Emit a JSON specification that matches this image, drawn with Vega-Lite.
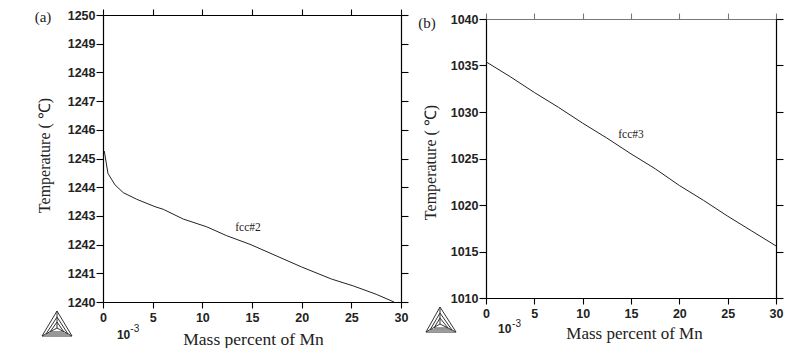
{
"$schema":"https://vega.github.io/schema/vega-lite/v6.json",
"background":"white",
"padding":{"left":34,"top":8,"right":0,"bottom":0},
"bounds":"flush",
"spacing":85,
"center":true,
"config":{"view":{"stroke":null},"axis":{"grid":false,"labelFont":"Liberation Sans","labelFontWeight":"bold","labelFontSize":12.5,"labelColor":"#222","domainColor":"#000","tickColor":"#000","domainWidth":1.2,"tickWidth":1.1,"titleFont":"Liberation Serif","titleFontWeight":"normal","titleColor":"#222"}},
"hconcat":[
{"width":298,"height":287,
"resolve":{"axis":{"x":"independent","y":"independent"}},
"layer":[
{"data":{"values":[{"x":0.13,"y":1245.26},{"x":0.5,"y":1244.48},{"x":1.21,"y":1244.08},{"x":2.04,"y":1243.81},{"x":3.39,"y":1243.58},{"x":5.24,"y":1243.32},{"x":6.07,"y":1243.23},{"x":8.08,"y":1242.89},{"x":10.44,"y":1242.62},{"x":12.45,"y":1242.31},{"x":14.8,"y":1242.01},{"x":17.5,"y":1241.6},{"x":20,"y":1241.22},{"x":23,"y":1240.8},{"x":25.2,"y":1240.56},{"x":27.5,"y":1240.27},{"x":29.3,"y":1240}]},
"mark":{"type":"line","color":"#222","strokeWidth":1},
"encoding":{
"x":{"field":"x","type":"quantitative","scale":{"domain":[0,30],"nice":false},"axis":{"values":[0,5,10,15,20,25,30],"tickSize":6,"labelPadding":3,"labelFlush":false,"title":"Mass percent of Mn","titleFontSize":17.5,"titleX":150,"titleY":37,"titleBaseline":"middle"}},
"y":{"field":"y","type":"quantitative","scale":{"domain":[1240,1250],"nice":false,"zero":false},"axis":{"values":[1240,1241,1242,1243,1244,1245,1246,1247,1248,1249,1250],"format":"d","tickSize":7,"labelPadding":1,"title":"Temperature  (  ℃)","titleFontSize":16,"titleX":-59,"titleY":140,"titleBaseline":"middle"}}}},
{"data":{"values":[{"x":0,"y":1240},{"x":30,"y":1250}]},
"mark":{"type":"line","opacity":0},
"encoding":{
"x":{"field":"x","type":"quantitative","scale":{"domain":[0,30],"nice":false},"axis":{"orient":"top","values":[0,5,10,15,20,25,30],"tickSize":6,"labels":false,"title":null}},
"y":{"field":"y","type":"quantitative","scale":{"domain":[1240,1250],"nice":false,"zero":false},"axis":{"orient":"right","values":[1240,1241,1242,1243,1244,1245,1246,1247,1248,1249,1250],"tickSize":7,"labels":false,"title":null}}}},
{"data":{"values":[
{"s":"o","i":0,"x":-4.63,"y":1239.686},{"s":"o","i":1,"x":-6.14,"y":1238.815},{"s":"o","i":2,"x":-3.12,"y":1238.815},{"s":"o","i":3,"x":-4.63,"y":1239.686},
{"s":"m","i":0,"x":-4.63,"y":1239.477},{"s":"m","i":1,"x":-5.74,"y":1238.885},{"s":"m","i":2,"x":-3.52,"y":1238.885},{"s":"m","i":3,"x":-4.63,"y":1239.477},
{"s":"n","i":0,"x":-4.63,"y":1239.303},{"s":"n","i":1,"x":-5.34,"y":1238.955},{"s":"n","i":2,"x":-3.93,"y":1238.955},{"s":"n","i":3,"x":-4.63,"y":1239.303},
{"s":"c","i":0,"x":-4.63,"y":1239.686},{"s":"c","i":1,"x":-4.63,"y":1239.094},{"s":"c","i":2,"x":-6.14,"y":1238.815},
{"s":"d","i":0,"x":-4.63,"y":1239.094},{"s":"d","i":1,"x":-3.12,"y":1238.815}]},
"mark":{"type":"line","color":"#333","strokeWidth":1},
"encoding":{"x":{"field":"x","type":"quantitative","axis":null,"scale":{"domain":[0,30],"nice":false}},"y":{"field":"y","type":"quantitative","axis":null,"scale":{"domain":[1240,1250],"nice":false,"zero":false}},"detail":{"field":"s"},"order":{"field":"i"}}},
{"data":{"values":[{"t":"fcc#2","x":14.6,"y":1242.58}]},"mark":{"type":"text","font":"Liberation Serif","fontSize":11.5,"color":"#222"},"encoding":{"x":{"field":"x","type":"quantitative","axis":null,"scale":{"domain":[0,30],"nice":false}},"y":{"field":"y","type":"quantitative","axis":null,"scale":{"domain":[1240,1250],"nice":false,"zero":false}},"text":{"field":"t"}}},
{"data":{"values":[{"t":"(a)","x":-6.04,"y":1249.93}]},"mark":{"type":"text","font":"Liberation Serif","fontSize":15,"color":"#222"},"encoding":{"x":{"field":"x","type":"quantitative","axis":null,"scale":{"domain":[0,30],"nice":false}},"y":{"field":"y","type":"quantitative","axis":null,"scale":{"domain":[1240,1250],"nice":false,"zero":false}},"text":{"field":"t"}}},
{"data":{"values":[{"t":"10","x":1.4,"y":1238.85}]},"mark":{"type":"text","align":"left","font":"Liberation Sans","fontWeight":"bold","fontSize":12,"color":"#222"},"encoding":{"x":{"field":"x","type":"quantitative","axis":null,"scale":{"domain":[0,30],"nice":false}},"y":{"field":"y","type":"quantitative","axis":null,"scale":{"domain":[1240,1250],"nice":false,"zero":false}},"text":{"field":"t"}}},
{"data":{"values":[{"t":"-3","x":2.75,"y":1239.06}]},"mark":{"type":"text","align":"left","font":"Liberation Sans","fontSize":10,"color":"#222"},"encoding":{"x":{"field":"x","type":"quantitative","axis":null,"scale":{"domain":[0,30],"nice":false}},"y":{"field":"y","type":"quantitative","axis":null,"scale":{"domain":[1240,1250],"nice":false,"zero":false}},"text":{"field":"t"}}}
]},
{"width":290,"height":279,
"resolve":{"axis":{"x":"independent","y":"independent"}},
"layer":[
{"data":{"values":[{"x":0,"y":1035.4},{"x":2.5,"y":1033.8},{"x":5,"y":1032.1},{"x":7.5,"y":1030.5},{"x":10,"y":1028.8},{"x":12.5,"y":1027.2},{"x":15,"y":1025.5},{"x":17.5,"y":1023.9},{"x":20,"y":1022.1},{"x":22.5,"y":1020.5},{"x":25,"y":1018.8},{"x":27.5,"y":1017.2},{"x":30,"y":1015.6}]},
"mark":{"type":"line","color":"#222","strokeWidth":1},
"encoding":{
"x":{"field":"x","type":"quantitative","scale":{"domain":[0,30],"nice":false},"axis":{"values":[0,5,10,15,20,25,30],"tickSize":6,"labelPadding":3,"labelFlush":false,"title":"Mass percent of Mn","titleFontSize":17,"titleX":148,"titleY":35,"titleBaseline":"middle"}},
"y":{"field":"y","type":"quantitative","scale":{"domain":[1010,1040],"nice":false,"zero":false},"axis":{"values":[1010,1015,1020,1025,1030,1035,1040],"format":"d","tickSize":7,"labelPadding":1,"title":"Temperature  (  ℃)","titleFontSize":16,"titleX":-56,"titleY":143,"titleBaseline":"middle"}}}},
{"data":{"values":[{"x":0,"y":1010},{"x":30,"y":1040}]},
"mark":{"type":"line","opacity":0},
"encoding":{
"x":{"field":"x","type":"quantitative","scale":{"domain":[0,30],"nice":false},"axis":{"orient":"top","values":[0,5,10,15,20,25,30],"tickSize":6,"labels":false,"title":null,"domainColor":"#777","tickColor":"#777"}},
"y":{"field":"y","type":"quantitative","scale":{"domain":[1010,1040],"nice":false,"zero":false},"axis":{"orient":"right","values":[1010,1015,1020,1025,1030,1035,1040],"tickSize":7,"labels":false,"title":null}}}},
{"data":{"values":[
{"s":"o","i":0,"x":-4.76,"y":1009.03},{"s":"o","i":1,"x":-6.21,"y":1006.34},{"s":"o","i":2,"x":-3.1,"y":1006.34},{"s":"o","i":3,"x":-4.76,"y":1009.03},
{"s":"m","i":0,"x":-4.76,"y":1008.39},{"s":"m","i":1,"x":-5.79,"y":1006.56},{"s":"m","i":2,"x":-3.52,"y":1006.56},{"s":"m","i":3,"x":-4.76,"y":1008.39},
{"s":"n","i":0,"x":-4.76,"y":1007.85},{"s":"n","i":1,"x":-5.38,"y":1006.77},{"s":"n","i":2,"x":-3.93,"y":1006.77},{"s":"n","i":3,"x":-4.76,"y":1007.85},
{"s":"c","i":0,"x":-4.76,"y":1009.03},{"s":"c","i":1,"x":-4.76,"y":1007.2},{"s":"c","i":2,"x":-6.21,"y":1006.34},
{"s":"d","i":0,"x":-4.76,"y":1007.2},{"s":"d","i":1,"x":-3.1,"y":1006.34}]},
"mark":{"type":"line","color":"#333","strokeWidth":1},
"encoding":{"x":{"field":"x","type":"quantitative","axis":null,"scale":{"domain":[0,30],"nice":false}},"y":{"field":"y","type":"quantitative","axis":null,"scale":{"domain":[1010,1040],"nice":false,"zero":false}},"detail":{"field":"s"},"order":{"field":"i"}}},
{"data":{"values":[{"t":"fcc#3","x":15,"y":1027.5}]},"mark":{"type":"text","font":"Liberation Serif","fontSize":11.5,"color":"#222"},"encoding":{"x":{"field":"x","type":"quantitative","axis":null,"scale":{"domain":[0,30],"nice":false}},"y":{"field":"y","type":"quantitative","axis":null,"scale":{"domain":[1010,1040],"nice":false,"zero":false}},"text":{"field":"t"}}},
{"data":{"values":[{"t":"(b)","x":-6.1,"y":1039.57}]},"mark":{"type":"text","font":"Liberation Serif","fontSize":15,"color":"#222"},"encoding":{"x":{"field":"x","type":"quantitative","axis":null,"scale":{"domain":[0,30],"nice":false}},"y":{"field":"y","type":"quantitative","axis":null,"scale":{"domain":[1010,1040],"nice":false,"zero":false}},"text":{"field":"t"}}},
{"data":{"values":[{"t":"10","x":1.24,"y":1006.67}]},"mark":{"type":"text","align":"left","font":"Liberation Sans","fontWeight":"bold","fontSize":12,"color":"#222"},"encoding":{"x":{"field":"x","type":"quantitative","axis":null,"scale":{"domain":[0,30],"nice":false}},"y":{"field":"y","type":"quantitative","axis":null,"scale":{"domain":[1010,1040],"nice":false,"zero":false}},"text":{"field":"t"}}},
{"data":{"values":[{"t":"-3","x":2.7,"y":1007.2}]},"mark":{"type":"text","align":"left","font":"Liberation Sans","fontSize":10,"color":"#222"},"encoding":{"x":{"field":"x","type":"quantitative","axis":null,"scale":{"domain":[0,30],"nice":false}},"y":{"field":"y","type":"quantitative","axis":null,"scale":{"domain":[1010,1040],"nice":false,"zero":false}},"text":{"field":"t"}}}
]}
]}
